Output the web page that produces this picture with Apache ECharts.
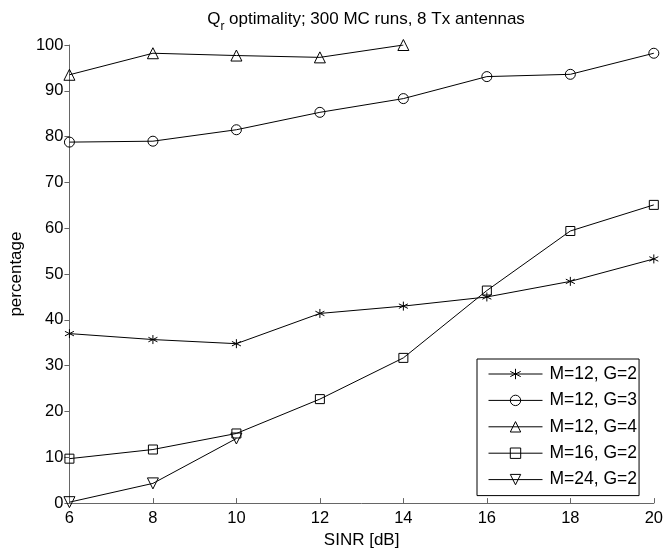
<!DOCTYPE html>
<html>
<head>
<meta charset="utf-8">
<script src="https://cdn.jsdelivr.net/npm/echarts@6/dist/echarts.min.js"></script>
<style>html,body{margin:0;padding:0;background:#fff;}#c{width:666px;height:554px;}</style>
</head>
<body>
<div id="c"></div>
<script>
const xValues = [6, 8, 10, 12, 14, 16, 18, 20];
const seriesNames = ['M=12, G=2', 'M=12, G=3', 'M=12, G=4', 'M=16, G=2', 'M=24, G=2'];
const m12g2 = [37.0, 35.7, 34.8, 41.4, 43.0, 45.0, 48.4, 53.3];
const m12g3 = [78.8, 79.0, 81.5, 85.3, 88.3, 93.1, 93.6, 98.2];
const m12g4 = [93.5, 98.2, 97.7, 97.3, 100.0];
const m16g2 = [9.7, 11.7, 15.2, 22.7, 31.7, 46.4, 59.4, 65.1];
const m24g2 = [0.2, 4.3, 14.1];

const FONT = 'Liberation Sans, Arial, sans-serif';
const pair = arr => arr.map((v, i) => [xValues[i], v]);

const symbols = [
  'path://M0,-5L0,5M-4.33,-2.5L4.33,2.5M-4.33,2.5L4.33,-2.5',
  'circle',
  'triangle',
  'rect',
  'path://M0,0L10,0L5,8.66Z'
];
const sizes = [9, 10, 11, 9, 11];
const datas = [m12g2, m12g3, m12g4, m16g2, m24g2];

const series = seriesNames.map((name, i) => ({
  name,
  type: 'line',
  data: pair(datas[i]),
  symbol: symbols[i],
  symbolSize: sizes[i],
  showAllSymbol: true,
  color: '#000',
  lineStyle: { color: '#000', width: 1 },
  itemStyle: { color: i === 0 ? '#000' : 'rgba(255,255,255,0)', borderColor: '#000', borderWidth: 1 },
  emphasis: { disabled: true },
  animation: false,
  z: 2
}));

const legendData = seriesNames.map((name, i) => ({
  name,
  itemStyle: { color: i === 0 ? '#000' : 'rgba(255,255,255,0)', borderColor: '#000', borderWidth: 1 },
  lineStyle: { color: '#000', width: 1 }
}));

const chart = echarts.init(document.getElementById('c'), null, { renderer: 'canvas' });
chart.setOption({
  backgroundColor: '#fff',
  animation: false,
  title: {
    text: '{a|Q}{s|r}{a| optimality; 300 MC runs, 8 Tx antennas}',
    left: 361, top: 3, textAlign: 'center',
    textStyle: {
      fontWeight: 'normal',
      rich: {
        a: { fontFamily: FONT, fontSize: 17, fontWeight: 'normal', color: '#000', lineHeight: 20, verticalAlign: 'bottom' },
        s: { fontFamily: FONT, fontSize: 12, fontWeight: 'normal', color: '#000', lineHeight: 12, verticalAlign: 'bottom', padding: [0, 0, -5, 0] }
      }
    }
  },
  grid: { left: 68, right: 11, top: 45, bottom: 47, containLabel: false },
  legend: {
    orient: 'vertical',
    left: 477, top: 359,
    data: legendData,
    itemWidth: 54, itemHeight: 13, itemGap: 6.4,
    padding: [5, 2, 6, 11],
    borderColor: '#000', borderWidth: 1,
    backgroundColor: '#fff',
    textStyle: { fontFamily: FONT, fontSize: 17.5, lineHeight: 20, color: '#000', padding: [0, 0, 0, 2] },
    selectedMode: false
  },
  xAxis: {
    type: 'value', min: 6, max: 20, interval: 2,
    name: 'SINR [dB]', nameLocation: 'middle', nameGap: 28,
    nameTextStyle: { fontFamily: FONT, fontSize: 17, color: '#000' },
    axisLine: { lineStyle: { color: '#666', width: 1 } },
    axisTick: { inside: true, length: 5, lineStyle: { color: '#666' } },
    axisLabel: { fontFamily: FONT, fontSize: 16.5, color: '#000', margin: 7 },
    splitLine: { show: false }
  },
  yAxis: {
    type: 'value', min: 0, max: 100, interval: 10,
    name: 'percentage', nameLocation: 'middle', nameGap: 42,
    nameTextStyle: { fontFamily: FONT, fontSize: 17, color: '#000' },
    axisLine: { show: true, lineStyle: { color: '#666', width: 1 } },
    axisTick: { show: true, inside: false, length: 5, lineStyle: { color: '#666' } },
    axisLabel: { fontFamily: FONT, fontSize: 16.5, color: '#000', margin: 6 },
    splitLine: { show: false }
  },
  series
});
</script>
</body>
</html>
